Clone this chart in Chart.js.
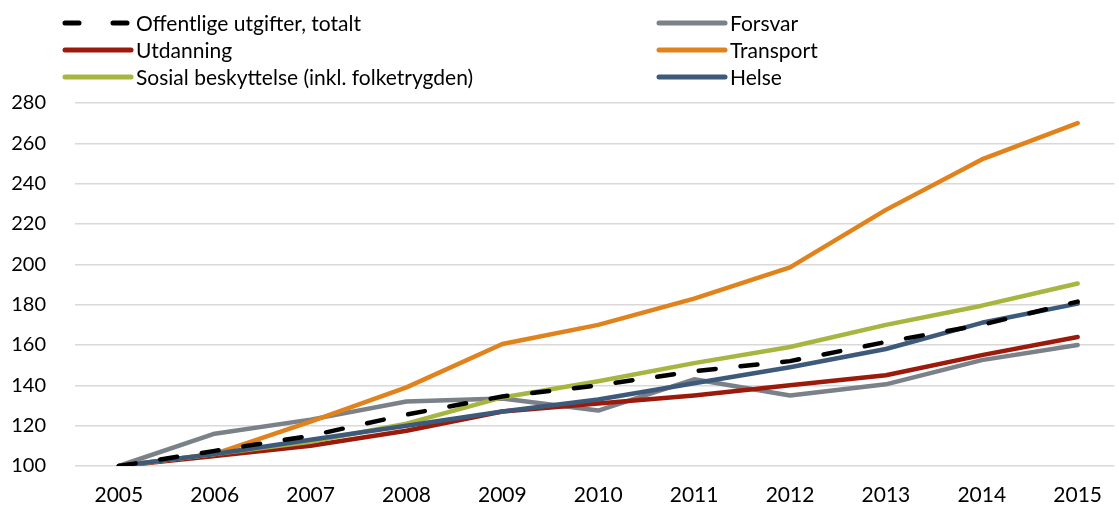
<!DOCTYPE html>
<html>
<head>
<meta charset="utf-8">
<script src="https://cdn.jsdelivr.net/npm/chart.js@4"></script>
<style>
  html, body { margin: 0; padding: 0; background: #fff; }
  #wrap { width: 1119px; height: 507px; position: relative; }
</style>
</head>
<body>
<div id="wrap"><canvas id="chart"></canvas></div>
<script>
var years = [2005, 2006, 2007, 2008, 2009, 2010, 2011, 2012, 2013, 2014, 2015];

var totalt    = [100, 107.5, 115, 125.5, 134.5, 140, 147, 152, 161.5, 170, 181.5];
var forsvar   = [100, 116, 123, 132, 133.5, 127.5, 143, 135, 140.5, 152.5, 160];
var utdanning = [100, 105, 110, 117.5, 127, 131, 135, 140, 145, 155, 164];
var transport = [100, 106, 122, 139, 160.5, 170, 183, 198.5, 227, 252, 270];
var sosial    = [100, 106, 112, 121, 134, 142, 151, 159, 170, 179.5, 190.5];
var helse     = [100, 106, 113, 120, 127, 133, 141, 149, 158, 171, 180.5];

var yTicks = [100, 120, 140, 160, 180, 200, 220, 240, 260, 280];

var FONT = 'Lato, "Open Sans", sans-serif';

function pts(values) {
    return values.map(function(v, i) { return { x: years[i], y: v }; });
}

function series(label, values, color, order, dash) {
    return {
        label: label,
        data: pts(values),
        borderColor: color,
        backgroundColor: color,
        borderWidth: 4.5,
        borderDash: dash || [],
        borderCapStyle: 'round',
        borderJoinStyle: 'round',
        pointRadius: 0,
        tension: 0,
        order: order
    };
}

// legend in two columns, drawn on the canvas from the dataset styles
var twoColLegend = {
    id: 'twoColLegend',
    afterDraw: function(chart) {
        var ctx = chart.ctx;
        var cols = [63, 657];
        var rows = [23, 50, 77];
        ctx.save();
        chart.data.datasets.forEach(function(ds, i) {
            var x = cols[i % 2], y = rows[Math.floor(i / 2)];
            ctx.strokeStyle = ds.borderColor;
            ctx.lineWidth = 5;
            ctx.lineCap = 'round';
            ctx.setLineDash(ds.borderDash.length ? [14, 34] : []);
            ctx.beginPath();
            ctx.moveTo(x + 2, y);
            ctx.lineTo(x + 68, y);
            ctx.stroke();
            ctx.setLineDash([]);
            ctx.fillStyle = '#000';
            ctx.font = '21px ' + FONT;
            ctx.textBaseline = 'middle';
            ctx.fillText(ds.label, x + 73, y + 1);
        });
        ctx.restore();
    }
};

new Chart(document.getElementById('chart'), {
    type: 'line',
    data: {
        datasets: [
            series('Offentlige utgifter, totalt', totalt, '#000000', 0, [17, 25]),
            series('Forsvar', forsvar, '#7a8188', 6),
            series('Utdanning', utdanning, '#9c1a0b', 5),
            series('Transport', transport, '#e0831c', 4),
            series('Sosial beskyttelse (inkl. folketrygden)', sosial, '#a6b640', 3),
            series('Helse', helse, '#3d5a7a', 1)
        ]
    },
    options: {
        responsive: true,
        maintainAspectRatio: false,
        animation: false,
        layout: { padding: { top: 103, left: 0, right: 0, bottom: 0 } },
        plugins: { legend: { display: false }, tooltip: { enabled: false } },
        scales: {
            x: {
                type: 'linear',
                min: 2004.543,
                max: 2015.384,
                afterBuildTicks: function(s) { s.ticks = years.map(function(y) { return { value: y }; }); },
                afterFit: function(s) { s.height = 38; },
                grid: { display: false, drawTicks: false },
                border: { display: false },
                ticks: {
                    autoSkip: false,
                    maxRotation: 0,
                    padding: 17,
                    color: '#000',
                    font: { family: FONT, size: 21 },
                    callback: function(v) { return String(v); }
                }
            },
            y: {
                min: 100,
                max: 280,
                afterBuildTicks: function(s) { s.ticks = yTicks.map(function(v) { return { value: v }; }); },
                afterFit: function(s) { s.width = 75; },
                grid: { color: '#d9d9d9', lineWidth: 1.5, drawTicks: false },
                border: { display: false },
                ticks: {
                    padding: 29,
                    color: '#000',
                    font: { family: FONT, size: 20 }
                }
            }
        }
    },
    plugins: [twoColLegend]
});
</script>
</body>
</html>
